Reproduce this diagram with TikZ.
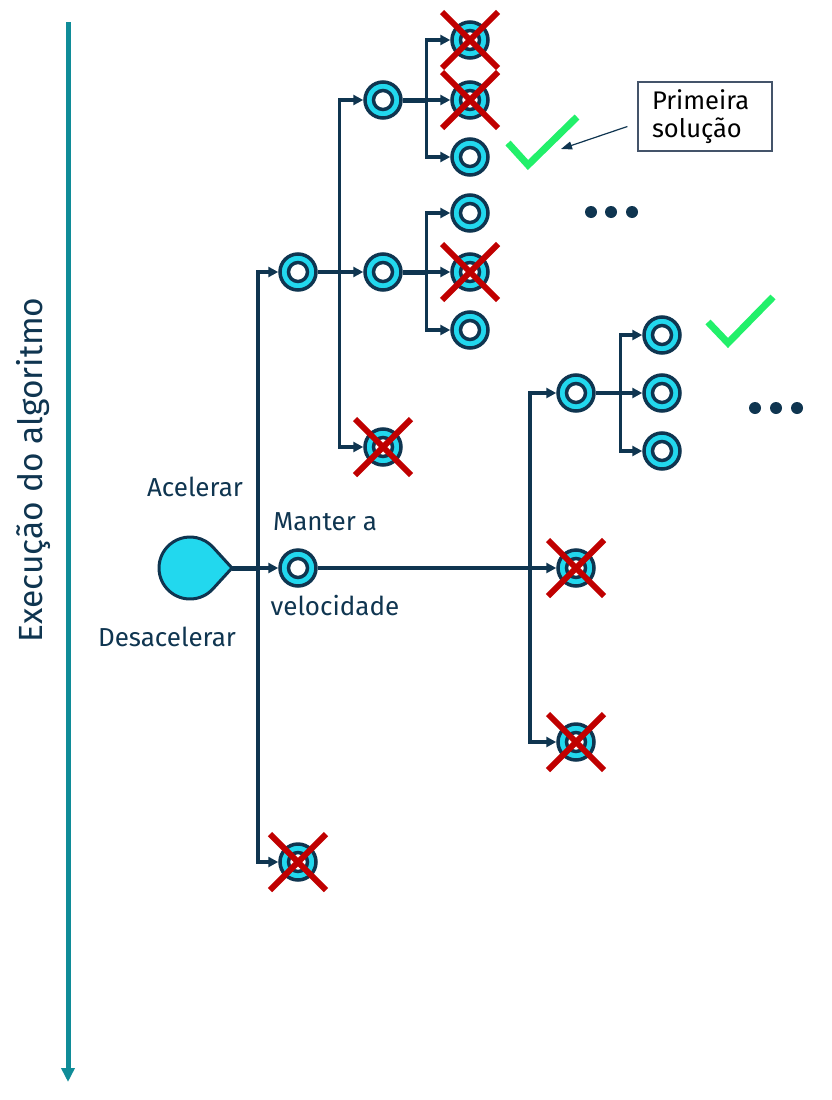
\documentclass[tikz,border=0pt]{standalone}
\usepackage{fontspec}
\setmainfont{Fira Sans}
\usetikzlibrary{arrows.meta}
\usetikzlibrary{shapes.misc}
\usetikzlibrary{calc}

\definecolor{navy}{HTML}{0F3550}
\definecolor{ringcyan}{HTML}{22D8EE}
\definecolor{timeteal}{HTML}{108C98}
\definecolor{cutred}{HTML}{C00000}
\definecolor{okgreen}{HTML}{22F06A}
\definecolor{boxgrey}{HTML}{44546A}

\tikzset{
	ring/.style={circle,draw=navy,fill=ringcyan,line width=3.5pt,minimum size=36pt,inner sep=0pt,
		path picture={\draw[navy,line width=3.5pt,fill=white] (path picture bounding box.center) circle (9.5pt);}},
	cut/.style={cross out,draw=cutred,line width=6pt,minimum size=50pt,inner sep=0pt},
	conn/.style={draw=navy,line width=3.2pt,-{Triangle[length=10pt,width=10pt]}},
	stem/.style={draw=navy,line width=5pt},
	tick/.style={draw=okgreen,line width=7pt},
	lbl/.style={text=navy,font=\fontsize{26}{30}\selectfont}
}

\begin{document}
\begin{tikzpicture}[x=1pt,y=-1pt]
		\useasboundingbox (0,0) rectangle (831,1100);

		% time axis
		\coordinate (tstart) at (68,22);
		\coordinate (tend) at (68,1082);
		\draw[timeteal,line width=5pt,-{Triangle[length=14pt,width=13pt]}] (tstart) -- (tend);
		\node[rotate=90,text=navy,font=\fontsize{33.5}{38}\selectfont] (axislabel) at (33,470) {Execução do algoritmo};

		% root
		\coordinate (Rc) at (190,568);
		\coordinate (Rtip) at (232,568);
		\draw[navy,line width=3pt,fill=ringcyan,line join=round]
			(Rtip) -- ($(Rc)+(42.4:31)$) arc[start angle=42.4,end angle=317.6,radius=31] -- cycle;

		\begin{scope}[every node/.style={ring}]
			\node (A) at (298,272) {};
			\node (M) at (298,568) {};
			\node (D) at (298,862) {};
			\node (AA) at (383,100) {};
			\node (AM) at (383,272) {};
			\node (AD) at (383,447) {};
			\node (AAA) at (470,40) {};
			\node (AAM) at (470,100) {};
			\node (AAD) at (470,157) {};
			\node (AMA) at (470,213) {};
			\node (AMM) at (470,272) {};
			\node (AMD) at (470,330) {};
			\node (MA) at (576,393) {};
			\node (MM) at (576,568) {};
			\node (MD) at (576,742) {};
			\node (MAA) at (662,335) {};
			\node (MAM) at (662,393) {};
			\node (MAD) at (662,451) {};
		\end{scope}

		% junctions
		\coordinate (jR) at (258,568);
		\coordinate (jA) at ($(A.east)+(22,0)$);
		\coordinate (jAA) at ($(AA.east)+(24,0)$);
		\coordinate (jAM) at ($(AM.east)+(24,0)$);
		\coordinate (jM) at (530,568);
		\coordinate (jMA) at ($(MA.east)+(25,0)$);

		\draw[stem] (Rtip) -- (jR);
		\draw[conn] (jR) |- (A.west);
		\draw[conn] (jR) -- (M.west);
		\draw[conn] (jR) |- (D.west);

		\draw[navy,line width=3.2pt] (A.east) -- (jA);
		\draw[conn] (jA) |- (AA.west);
		\draw[conn] (jA) -- (AM.west);
		\draw[conn] (jA) |- (AD.west);

		\draw[stem] (AA.east) -- (jAA);
		\draw[conn] (jAA) |- (AAA.west);
		\draw[conn] (jAA) -- (AAM.west);
		\draw[conn] (jAA) |- (AAD.west);

		\draw[stem] (AM.east) -- (jAM);
		\draw[conn] (jAM) |- (AMA.west);
		\draw[conn] (jAM) -- (AMM.west);
		\draw[conn] (jAM) |- (AMD.west);

		\draw[navy,line width=3.2pt] (M.east) -- (jM);
		\draw[conn] (jM) |- (MA.west);
		\draw[conn] (jM) -- (MM.west);
		\draw[conn] (jM) |- (MD.west);

		\draw[navy,line width=4pt] (MA.east) -- (jMA);
		\draw[conn] (jMA) |- (MAA.west);
		\draw[conn] (jMA) -- (MAM.west);
		\draw[conn] (jMA) |- (MAD.west);

		% pruned branches
		\begin{scope}[every node/.style={cut}]
			\node (xD) at (D) {};
			\node (xAD) at (AD) {};
			\node (xAAA) at (AAA) {};
			\node (xAAM) at (AAM) {};
			\node (xAMM) at (AMM) {};
			\node (xMM) at (MM) {};
			\node (xMD) at (MD) {};
		\end{scope}

		% solutions
		\draw[tick] (508,143) -- (528,165) -- (577,117);
		\draw[tick] (708,322) -- (728,343) -- (773,297);
		\coordinate (check1) at (561,149);

		\node[draw=boxgrey,line width=1.2pt,text=black,font=\fontsize{25.5}{28}\selectfont,
			text width=106pt,inner xsep=14pt,minimum height=69pt,align=left] (first) at (705,116.5) {Primeira\\solução};
		\draw[navy,line width=1.2pt,-{Triangle[length=11pt,width=8pt]}] ([xshift=-10pt,yshift=-10pt]first.west) -- (check1);

		% more
		\foreach \x in {591,611,632} \fill[navy] (\x,212) circle (6);
		\foreach \x in {755,776,797} \fill[navy] (\x,408) circle (6);

		% labels
		\node[lbl] (acel) at (195,487) {Acelerar};
		\node[lbl] (desacel) at (167,637) {Desacelerar};
		\node[lbl] (manter) at (325,522) {Manter a};
		\node[lbl] (veloc) at (335,606) {velocidade};
	\end{tikzpicture}
\end{document}
